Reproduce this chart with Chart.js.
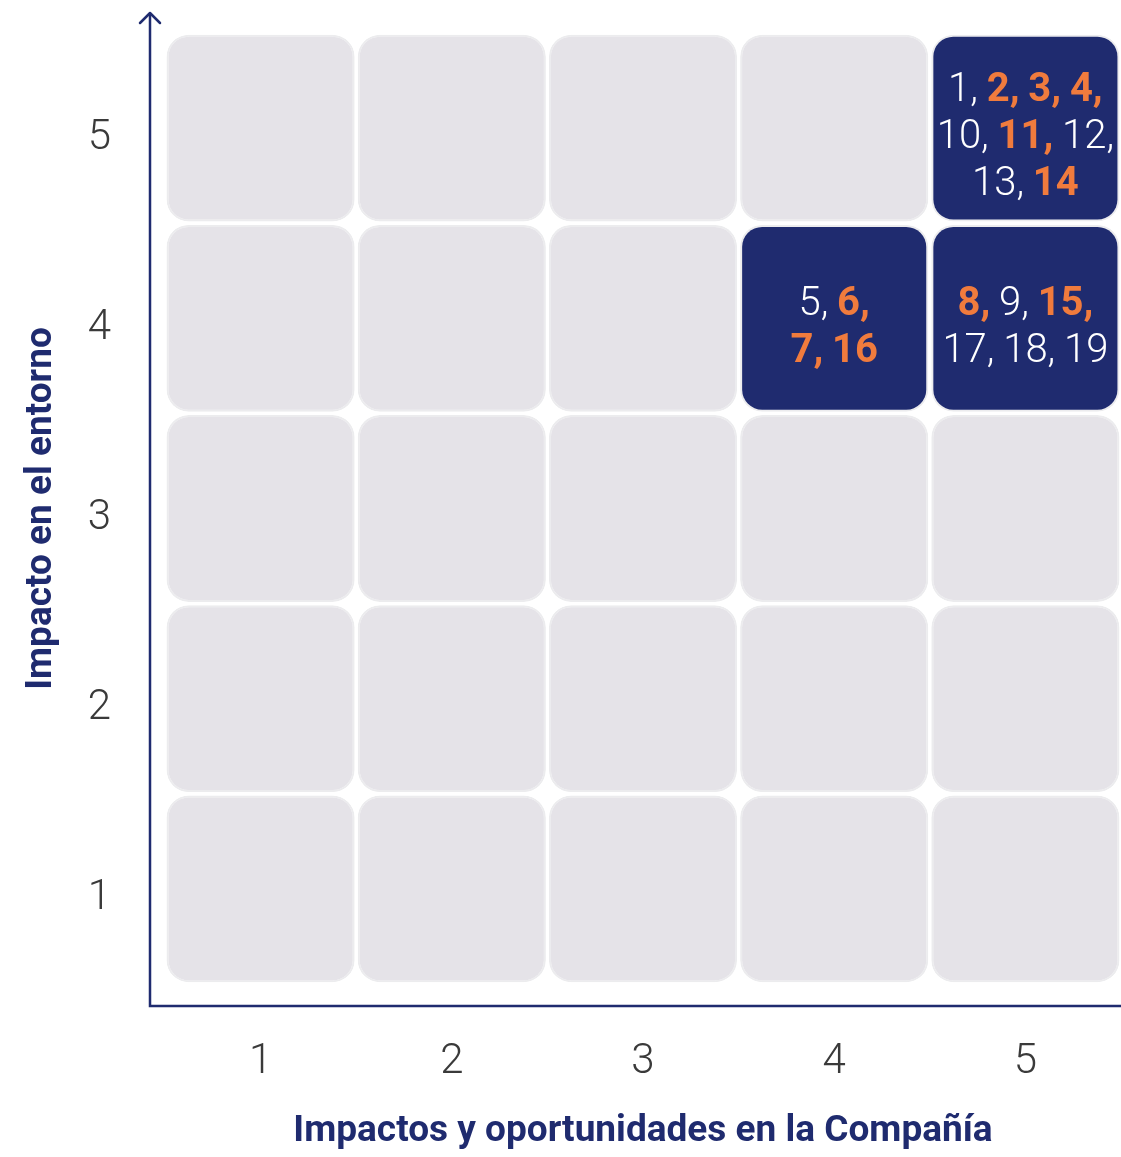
<!DOCTYPE html>
<html>
<head>
<meta charset="utf-8">
<script src="https://cdn.jsdelivr.net/npm/chart.js@4.4.1/dist/chart.umd.min.js"></script>
<style>
  html, body { margin: 0; padding: 0; background: #ffffff; }
  #wrap { width: 1121px; height: 1157px; position: relative; }
</style>
</head>
<body>
<div id="wrap"><canvas id="c" width="1121" height="1157"></canvas></div>
<script>
// ---- Data ----
const xCategories = ['1', '2', '3', '4', '5'];
const yRows = [1, 2, 3, 4, 5];
const yTickLabels = ['1', '2', '3', '4', '5'];
const xAxisTitle = 'Impactos y oportunidades en la Compañía';
const yAxisTitle = 'Impacto en el entorno';

const topicNumbers = [1, 2, 3, 4, 5, 6, 7, 8, 9, 10, 11, 12, 13, 14, 15, 16, 17, 18, 19];
const topicCompany = [5, 5, 5, 5, 4, 4, 4, 5, 5, 5, 5, 5, 5, 5, 5, 4, 5, 5, 5];
const topicEnvironment = [5, 5, 5, 5, 4, 4, 4, 4, 4, 5, 5, 5, 5, 5, 4, 4, 4, 4, 4];
const topicHighlighted = [2, 3, 4, 6, 7, 8, 11, 14, 15, 16];
const lineBreakAfter = [4, 12, 6, 15];

// ---- Styles ----
const NAVY = '#1f2b6f';
const ORANGE = '#f07b3d';
const CELL_GREY = '#e5e3e8';
const RING = '#ececee';

function topicsIn(col, row) {
  const out = [];
  topicNumbers.forEach((n, i) => {
    if (topicCompany[i] === col && topicEnvironment[i] === row) out.push(n);
  });
  return out.sort((a, b) => a - b);
}

const datasets = yRows.map(row => ({
  label: 'row ' + row,
  data: xCategories.map(c => [row - 0.491, row + 0.491]),
  backgroundColor: xCategories.map(c => topicsIn(Number(c), row).length ? NAVY : CELL_GREY),
  borderColor: RING,
  borderWidth: 2,
  borderRadius: 22,
  borderSkipped: false,
  grouped: false,
  barPercentage: 0.984,
  categoryPercentage: 1.0
}));

const cellLabelPlugin = {
  id: 'cellLabels',
  afterDatasetsDraw(chart) {
    const ctx = chart.ctx;
    const xs = chart.scales.x, ys = chart.scales.y;
    const lightFont = '300 40px Roboto';
    const boldFont = '700 40px Roboto';
    const lineH = 47;
    xCategories.forEach((c, ci) => {
      yRows.forEach(row => {
        const list = topicsIn(Number(c), row);
        if (!list.length) return;
        const lines = [[]];
        list.forEach((n, k) => {
          const hl = topicHighlighted.includes(n);
          const txt = String(n) + (k < list.length - 1 ? ',' : '');
          lines[lines.length - 1].push({ txt, hl });
          if (lineBreakAfter.includes(n) && k < list.length - 1) lines.push([]);
        });
        const cx = xs.getPixelForValue(ci);
        const cy = ys.getPixelForValue(row);
        ctx.save();
        ctx.textBaseline = 'middle';
        ctx.textAlign = 'left';
        ctx.font = lightFont;
        const space = ctx.measureText(' ').width * 0.9;
        const startY = cy + 10 - (lines.length - 1) * lineH / 2;
        lines.forEach((ln, li) => {
          let total = 0;
          const widths = ln.map((t, ti) => {
            ctx.font = t.hl ? boldFont : lightFont;
            const w = ctx.measureText(t.txt).width;
            total += w + (ti < ln.length - 1 ? space : 0);
            return w;
          });
          let x = cx - total / 2;
          const y = startY + li * lineH;
          ln.forEach((t, ti) => {
            ctx.font = t.hl ? boldFont : lightFont;
            ctx.fillStyle = t.hl ? ORANGE : '#ffffff';
            ctx.fillText(t.txt, x, y);
            x += widths[ti] + space;
          });
        });
        ctx.restore();
      });
    });
  }
};

const axisLinesPlugin = {
  id: 'axisLines',
  afterDraw(chart) {
    const ctx = chart.ctx;
    const a = chart.chartArea;
    const ax = a.left - 15;
    const ay = a.bottom + 22;
    ctx.save();
    ctx.strokeStyle = NAVY;
    ctx.lineWidth = 2.5;
    ctx.lineCap = 'butt';
    ctx.beginPath();
    ctx.moveTo(ax, ay);
    ctx.lineTo(ax, 13);
    ctx.moveTo(ax - 1.25, ay);
    ctx.lineTo(chart.width, ay);
    ctx.stroke();
    ctx.lineCap = 'round';
    ctx.lineJoin = 'round';
    ctx.beginPath();
    ctx.moveTo(ax - 10, 23);
    ctx.lineTo(ax, 13);
    ctx.lineTo(ax + 10, 23);
    ctx.stroke();
    ctx.restore();
  }
};

new Chart(document.getElementById('c'), {
  type: 'bar',
  data: { labels: xCategories, datasets },
  plugins: [cellLabelPlugin, axisLinesPlugin],
  options: {
    responsive: false,
    animation: false,
    layout: { padding: { top: 33, right: 0, left: 0, bottom: 0 } },
    plugins: { legend: { display: false }, tooltip: { enabled: false } },
    scales: {
      x: {
        type: 'category',
        offset: true,
        grid: { display: false, drawTicks: false },
        border: { display: false },
        ticks: { color: '#3a3a3a', font: { family: 'Roboto', size: 42, weight: '300' }, padding: 53 },
        title: { display: true, text: xAxisTitle, color: NAVY, font: { family: 'Roboto', size: 37, weight: '700' }, padding: { top: 0, bottom: 3 } },
        afterFit(scale) { scale.height = 173; scale.paddingLeft = 0; scale.paddingRight = 0; }
      },
      y: {
        type: 'linear',
        min: 0.5,
        max: 5.5,
        grid: { display: false, drawTicks: false },
        border: { display: false },
        afterBuildTicks(scale) { scale.ticks = yRows.map(v => ({ value: v })); },
        ticks: {
          color: '#3a3a3a',
          font: { family: 'Roboto', size: 42, weight: '300', lineHeight: '20px' },
          padding: 54,
          callback: (v) => ['', yTickLabels[yRows.indexOf(v)] ?? '']
        },
        title: { display: true, text: yAxisTitle, color: NAVY, font: { family: 'Roboto', size: 37, weight: '700' }, padding: { top: 20, bottom: 0 } },
        afterFit(scale) { scale.width = 165; scale.paddingTop = 0; scale.paddingBottom = 0; }
      }
    }
  }
});
</script>
</body>
</html>
